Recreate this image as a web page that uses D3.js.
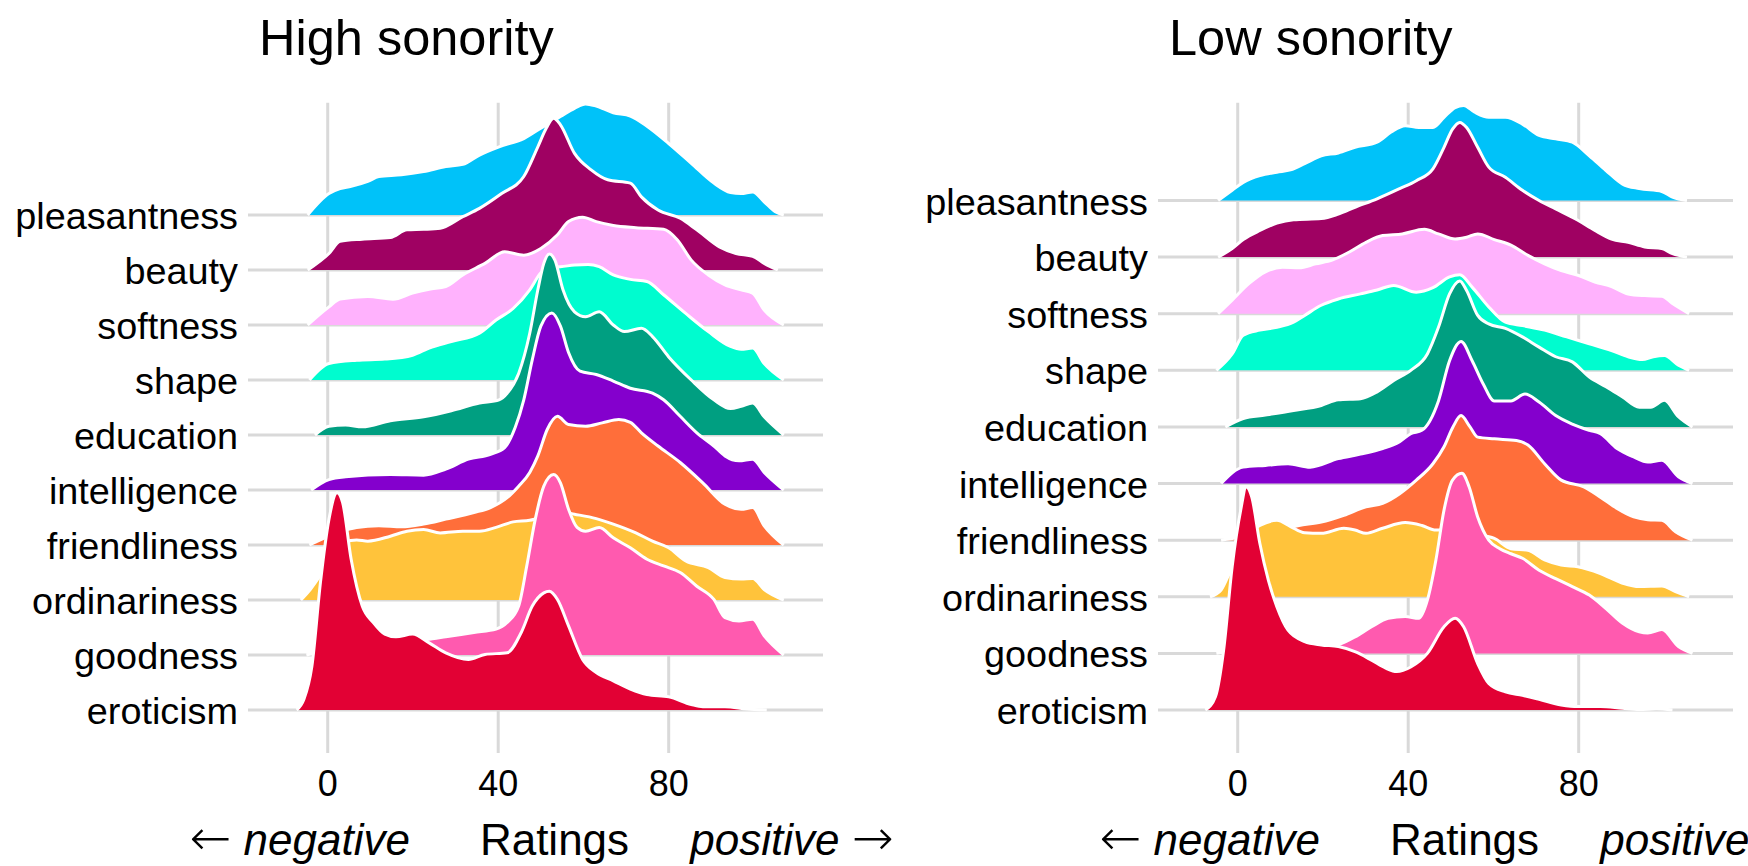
<!DOCTYPE html>
<html><head><meta charset="utf-8">
<script src="https://cdn.jsdelivr.net/npm/d3@7"></script>
<style>
body{margin:0;background:#fff}
svg{display:block}
text{font-family:"Liberation Sans",Arial,Helvetica,sans-serif;fill:#000}
</style>
</head><body>
<svg id="chart" width="1748" height="866"></svg>
<script>
// ---------------- data ----------------
const categories = ["pleasantness","beauty","softness","shape","education","intelligence","friendliness","ordinariness","goodness","eroticism"];
const colors = ["#00C2F9","#9F0162","#FFB2FD","#00FCCF","#009F81","#8400CD","#FF6E3A","#FFC33B","#FF5AAF","#E20134"];
const panelTitles = ["High sonority","Low sonority"];
const xTicks = [0,40,80];
const xTitleParts = ["←"," ","negative","     \u2009Ratings     ","positive"," ","→"];

// [rating, ridge height] pairs (height in units of row spacing)
const hiPleasantness = [[-4.7,0],[0.3,0.39],[2.9,0.48],[5.5,0.52],[9.4,0.61],[12,0.70],[17.3,0.73],[22.5,0.79],[27.7,0.88],[31.7,0.92],[35.6,1.09],[40.2,1.24],[46,1.39],[50,1.58],[54.6,1.79],[57.9,1.94],[60.5,2.02],[63,1.98],[67,1.86],[71,1.80],[75,1.61],[80,1.30],[85.3,0.94],[90.6,0.58],[94.5,0.41],[97,0.39],[99.7,0.42],[102.4,0.24],[105,0.06],[107,0]];
const hiBeauty = [[-4.7,0],[0.3,0.30],[2.9,0.52],[8.1,0.56],[14.7,0.59],[18.6,0.73],[22.5,0.74],[26.4,0.76],[31.7,0.97],[35.6,1.12],[40.8,1.39],[46,1.70],[49.3,2.24],[51.3,2.58],[53,2.76],[54.6,2.64],[57.9,2.12],[61.8,1.82],[65.7,1.64],[71,1.58],[73.6,1.33],[77.5,1.09],[82.7,0.94],[86.6,0.73],[91.9,0.42],[95.8,0.30],[99.7,0.25],[102.4,0.12],[105.6,0]];
const hiSoftness = [[-4.7,0],[0.3,0.33],[2.9,0.47],[9.4,0.52],[15.3,0.47],[19.9,0.58],[23.8,0.65],[27.7,0.70],[31.7,0.91],[36.9,1.12],[41.5,1.33],[46,1.27],[50,1.39],[53.9,1.64],[56.5,1.88],[59.8,1.96],[63,1.88],[67,1.81],[72.3,1.77],[78.8,1.74],[82,1.55],[85.3,1.18],[89.3,0.91],[93.2,0.73],[97,0.64],[99.7,0.58],[102.4,0.27],[107,0]];
const hiShape = [[-4.3,0],[0.3,0.30],[6.8,0.36],[13.4,0.38],[19.9,0.45],[23.8,0.58],[29,0.70],[35.6,0.85],[39.5,1.09],[43.5,1.30],[47.4,1.64],[50,1.95],[52,2.05],[54.6,2.06],[57.9,2.09],[61.1,2.10],[63.7,2.06],[67,1.91],[71,1.83],[74.9,1.79],[78.8,1.55],[84,1.21],[89.3,0.88],[94.5,0.61],[97,0.56],[99.7,0.58],[102.4,0.30],[107,0]];
const hiEducation = [[-3,0],[0.3,0.16],[4.2,0.18],[8.1,0.15],[14.7,0.26],[22.5,0.33],[29,0.44],[35.6,0.58],[40.2,0.64],[42.1,0.76],[44.8,1.12],[47.4,1.85],[49.3,2.64],[50.7,3.12],[52,3.29],[53.3,3.18],[55.2,2.64],[57.9,2.24],[60.5,2.15],[63.7,2.24],[67,2.00],[69.6,1.88],[73.6,1.94],[76.2,1.79],[80,1.42],[85.3,1.00],[90.6,0.64],[94.5,0.48],[97,0.52],[99.7,0.58],[102.4,0.33],[107,0]];
const hiIntelligence = [[-3.9,0],[0.3,0.19],[4.2,0.24],[14.7,0.28],[22.5,0.27],[27.7,0.38],[33,0.56],[38.2,0.65],[41.5,0.77],[44,1.14],[46,1.64],[48,2.37],[50,2.98],[52.6,3.22],[54.6,2.98],[56.5,2.50],[59.2,2.16],[63,2.10],[67,1.98],[71,1.85],[76.2,1.76],[78.8,1.64],[82.7,1.34],[86.6,1.04],[90.6,0.80],[93.2,0.62],[96.5,0.53],[99.7,0.56],[102.4,0.32],[107,0]];
const hiFriendliness = [[-4.3,0],[0.3,0.16],[2.9,0.24],[6.8,0.32],[12,0.35],[17.3,0.33],[22.5,0.38],[27.7,0.47],[34.3,0.59],[38.2,0.68],[42.1,0.86],[44.8,1.07],[47.4,1.32],[49.3,1.62],[51.5,2.10],[53.9,2.34],[56.5,2.19],[60.5,2.16],[64.4,2.22],[68.3,2.28],[71,2.23],[73.6,2.04],[77.5,1.80],[82.7,1.50],[88,1.13],[93.2,0.74],[97,0.65],[99.7,0.68],[102.4,0.35],[107,0]];
const hiOrdinariness = [[-6.3,0],[-4,0.2],[-1.3,0.5],[1.5,0.85],[4,1.05],[6.8,1.09],[9.4,1.07],[14.7,1.16],[18.6,1.25],[22.5,1.28],[26.4,1.22],[31.7,1.25],[35.6,1.25],[39.5,1.32],[43.5,1.42],[47.4,1.45],[52,1.55],[55,1.60],[57.9,1.56],[63,1.48],[67,1.38],[72.3,1.22],[76.2,1.07],[80,0.95],[84,0.71],[89.3,0.59],[93.2,0.41],[97,0.38],[99.7,0.39],[102.4,0.19],[107,0]];
const hiGoodness = [[-5,0],[0,0.10],[10,0.20],[18,0.25],[23.2,0.28],[27.7,0.33],[34.3,0.41],[39.5,0.47],[42.1,0.59],[44.8,0.89],[46.7,1.62],[48.7,2.47],[50.7,3.07],[53,3.28],[54.6,3.13],[56.5,2.65],[58.5,2.32],[60.5,2.25],[63.7,2.32],[67,2.13],[71,1.95],[74.9,1.74],[78.8,1.62],[82.7,1.50],[86.6,1.25],[90.6,1.01],[93.2,0.68],[96.5,0.62],[99.7,0.65],[102.4,0.35],[107,0]];
const hiEroticism = [[-7.3,0],[-5.6,0.19],[-3.7,0.8],[-1.7,2.32],[0.3,3.47],[2.2,3.95],[3.5,3.77],[5.5,2.74],[8.1,1.89],[10.7,1.59],[13.4,1.38],[16,1.33],[19.9,1.38],[23.8,1.22],[27.7,1.04],[33,0.92],[36.9,1.01],[42.1,1.04],[45.4,1.41],[48,1.89],[50.7,2.13],[52,2.16],[53.9,2.01],[56.5,1.53],[59.8,0.92],[63,0.68],[67,0.53],[71,0.38],[74.9,0.28],[80,0.24],[85.3,0.10],[88,0.06],[93.2,0.06],[98.4,0.02],[103,0]];

const loPleasantness = [[-4.6,0],[-1.3,0.18],[1.3,0.32],[5.2,0.44],[9.2,0.50],[12.4,0.54],[15.7,0.65],[19.6,0.79],[23.6,0.84],[27.5,0.94],[32.7,1.03],[36,1.21],[39.3,1.32],[42.5,1.29],[45.8,1.29],[48.4,1.47],[51,1.64],[53,1.68],[55.6,1.56],[58.9,1.47],[62.8,1.47],[66.8,1.35],[70.7,1.15],[74.6,1.09],[78.5,1.03],[82.5,0.79],[86.4,0.53],[90.3,0.29],[94.2,0.21],[99.5,0.16],[102,0.06],[105.4,0]];
const loBeauty = [[-4.6,0],[-1.3,0.15],[1.3,0.31],[5.2,0.47],[9.2,0.60],[13.1,0.66],[19.6,0.68],[23.6,0.76],[27.5,0.88],[32.7,1.03],[38,1.21],[41.9,1.35],[45.8,1.56],[48.4,1.94],[50.4,2.26],[52.1,2.38],[53.7,2.29],[56.3,1.94],[58.9,1.59],[62.8,1.41],[66.8,1.18],[70.7,1.00],[74.6,0.85],[79.8,0.65],[83.8,0.47],[87.7,0.32],[91.6,0.26],[95.5,0.18],[99.5,0.15],[102,0.06],[105.4,0]];
const loSoftness = [[-4.6,0],[-1.3,0.24],[2.6,0.53],[6.5,0.74],[10.5,0.82],[14.4,0.81],[18.3,0.88],[22.3,0.95],[26.2,1.09],[30.1,1.26],[34,1.38],[38.6,1.41],[43.8,1.49],[47.1,1.41],[51,1.32],[53.7,1.35],[56.3,1.41],[60.2,1.31],[64.1,1.21],[68.1,1.03],[72,0.88],[75.9,0.76],[79.8,0.68],[83.8,0.56],[87.7,0.48],[91.6,0.35],[95.5,0.32],[99.5,0.31],[102,0.18],[105.9,0]];
const loShape = [[-5,0],[-1.3,0.29],[1.3,0.62],[5.2,0.71],[9.2,0.76],[13.1,0.85],[15.7,0.97],[19.6,1.15],[23.6,1.26],[28.8,1.35],[32.7,1.42],[36.6,1.50],[41.9,1.38],[45.8,1.46],[49.7,1.65],[52.1,1.69],[55,1.47],[58.9,1.12],[62.8,0.85],[66.8,0.79],[72,0.71],[77.2,0.59],[82.5,0.47],[87.7,0.35],[91.6,0.24],[94.9,0.19],[97.5,0.24],[100.1,0.26],[103.4,0.09],[105.9,0]];
const loEducation = [[-2.9,0],[1.3,0.15],[6.5,0.21],[13.1,0.29],[19.6,0.38],[23.6,0.48],[28.8,0.50],[32.7,0.62],[36.6,0.82],[40.6,1.00],[44.5,1.29],[47.1,1.76],[49.7,2.35],[52.1,2.58],[53.7,2.41],[56.3,1.97],[58.9,1.82],[62.8,1.74],[66.8,1.59],[70.7,1.41],[74.6,1.24],[78.5,1.15],[82.5,0.88],[86.4,0.71],[90.3,0.53],[94.2,0.35],[96.9,0.35],[100.1,0.47],[103.4,0.18],[106.7,0]];
const loIntelligence = [[-3.9,0],[1.3,0.29],[6.5,0.32],[11.8,0.35],[17,0.29],[23.6,0.44],[28.8,0.52],[34,0.62],[38,0.74],[40.6,0.88],[43.2,0.94],[47.1,1.46],[49.7,2.17],[52.4,2.51],[55,2.17],[57.6,1.76],[60.2,1.46],[64.1,1.46],[67.4,1.58],[70.7,1.44],[74.6,1.20],[78.5,1.05],[82.5,0.94],[85.1,0.88],[89,0.62],[92.9,0.47],[96.2,0.38],[99.5,0.41],[103.4,0.12],[106.7,0]];
const loFriendliness = [[-3.9,0],[-1.3,0.03],[3.9,0.09],[9.2,0.18],[14.4,0.26],[19.6,0.32],[24.9,0.44],[30.1,0.59],[34,0.65],[38,0.82],[41.9,1.06],[45.8,1.35],[48.4,1.65],[50.5,2.00],[52.4,2.20],[54.5,2.00],[56.3,1.82],[60.2,1.79],[65.4,1.76],[68.1,1.68],[72,1.35],[75.9,1.06],[81.2,0.94],[85.1,0.76],[89,0.56],[92.9,0.41],[96.2,0.36],[99.5,0.35],[102.7,0.15],[106.7,0]];
const loOrdinariness = [[-6.5,0],[-3.9,0.12],[-2,0.41],[0.5,0.90],[3,1.15],[5.2,1.26],[9.2,1.35],[12.4,1.24],[15.7,1.13],[19.6,1.12],[24.9,1.21],[27.5,1.18],[30.1,1.12],[34,1.21],[39.3,1.31],[43.2,1.26],[46.5,1.18],[48.4,1.18],[52,1.15],[56,1.10],[60.2,1.03],[64.1,0.85],[68.1,0.82],[72,0.65],[75.9,0.56],[79.8,0.53],[85.1,0.41],[90.3,0.24],[94.2,0.18],[99.5,0.19],[102.7,0.09],[105.9,0]];
const loGoodness = [[-5,0],[0,0.05],[10,0.08],[20,0.10],[23.6,0.15],[27.5,0.29],[31.4,0.47],[35.3,0.62],[39.3,0.65],[42.5,0.62],[44.5,0.94],[46.5,1.65],[48.4,2.53],[50.4,3.06],[52.6,3.18],[54.3,2.94],[56.3,2.41],[58.9,2.00],[61.5,1.85],[64.1,1.76],[66.8,1.68],[70.7,1.47],[74.6,1.32],[78.5,1.18],[82.5,1.03],[86.4,0.79],[90.3,0.53],[94.2,0.38],[96.2,0.36],[99.5,0.42],[103.4,0.12],[106.7,0]];
const loEroticism = [[-7.6,0],[-5.2,0.24],[-3.3,1.06],[-1.3,2.53],[0.7,3.53],[2,3.94],[3.3,3.76],[5.2,2.94],[7.2,2.29],[9.2,1.82],[11.8,1.41],[15.7,1.21],[19.6,1.15],[23.6,1.12],[27.5,1.03],[31.4,0.88],[34.7,0.74],[37.3,0.68],[40.6,0.76],[44.5,1.00],[48.4,1.47],[51,1.62],[53,1.47],[56.3,0.82],[58.9,0.47],[62.8,0.32],[66.8,0.26],[70.7,0.19],[75.9,0.09],[79.8,0.06],[85.1,0.06],[90.3,0.03],[94.2,0.01],[98.2,0.02],[102,0]];

const highSeries = [hiPleasantness,hiBeauty,hiSoftness,hiShape,hiEducation,hiIntelligence,hiFriendliness,hiOrdinariness,hiGoodness,hiEroticism];
const lowSeries  = [loPleasantness,loBeauty,loSoftness,loShape,loEducation,loIntelligence,loFriendliness,loOrdinariness,loGoodness,loEroticism];

// ---------------- layout ----------------
const svg = d3.select("#chart");
const panelW = 575, plotTop = 102.7, plotBottom = 753;
const xDomain = [-18.7, 116.2];
const panels = [
  {title: panelTitles[0], series: highSeries, left: 248, topBase: 215, bottomBase: 710},
  {title: panelTitles[1], series: lowSeries,  left: 1158, topBase: 200.5, bottomBase: 710}
];
const gridCol = "#D9D9D9", gridW = 3;

panels.forEach(p => {
  const g = svg.append("g");
  const x = d3.scaleLinear().domain(xDomain).range([p.left, p.left + panelW]);
  const n = categories.length;
  // index 0 = bottom row (eroticism), n-1 = top row (pleasantness)
  const y = d3.scaleLinear().domain([0, n - 1]).range([p.bottomBase, p.topBase]);
  const rowIndex = k => n - 1 - k;

  // vertical grid
  g.selectAll("line.vg").data(xTicks).join("line")
    .attr("x1", d => x(d)).attr("x2", d => x(d))
    .attr("y1", plotTop).attr("y2", plotBottom)
    .attr("stroke", gridCol).attr("stroke-width", gridW);
  // horizontal grid
  g.selectAll("line.hg").data(categories).join("line")
    .attr("x1", p.left).attr("x2", p.left + panelW)
    .attr("y1", (d, k) => y(rowIndex(k))).attr("y2", (d, k) => y(rowIndex(k)))
    .attr("stroke", gridCol).attr("stroke-width", gridW);

  // ridges, top row first so lower rows overlap
  p.series.forEach((s, k) => {
    const r = rowIndex(k);
    const area = d3.area().curve(d3.curveMonotoneX)
      .x(d => x(d[0])).y0(y(r)).y1(d => y(r + d[1]));
    const line = d3.line().curve(d3.curveMonotoneX)
      .x(d => x(d[0])).y(d => y(r + d[1]));
    g.append("path").datum(s).attr("d", area).attr("fill", colors[k]);
    g.append("path").datum(s).attr("d", line).attr("fill", "none")
      .attr("stroke", "#fff").attr("stroke-width", 3).attr("stroke-linejoin", "round");
  });

  // y labels
  g.selectAll("text.yl").data(categories).join("text")
    .attr("x", p.left - 10).attr("y", (d, k) => y(rowIndex(k)) + 14)
    .attr("text-anchor", "end").attr("font-size", 37.8).text(d => d);

  // x tick labels
  g.selectAll("text.xt").data(xTicks).join("text")
    .attr("x", d => x(d)).attr("y", 795.7)
    .attr("text-anchor", "middle").attr("font-size", 36).text(d => d);

  // title
  g.append("text").attr("x", p.left + 11).attr("y", 55)
    .attr("font-size", 50.5).text(p.title);

  // x axis title
  const t = g.append("text").attr("x", p.left + panelW / 2 + 6).attr("y", 855)
    .attr("text-anchor", "middle").attr("font-size", 44)
    .attr("xml:space", "preserve").style("white-space", "pre");
  xTitleParts.forEach((part, i) => {
    const ts = t.append("tspan").text(part)
      .attr("font-style", (i === 2 || i === 4) ? "italic" : "normal");
    if (part === "←" || part === "→") ts.attr("font-family", "DejaVu Sans").attr("font-size", 50).attr("font-weight", 200);
  });
});
</script>
</body></html>
